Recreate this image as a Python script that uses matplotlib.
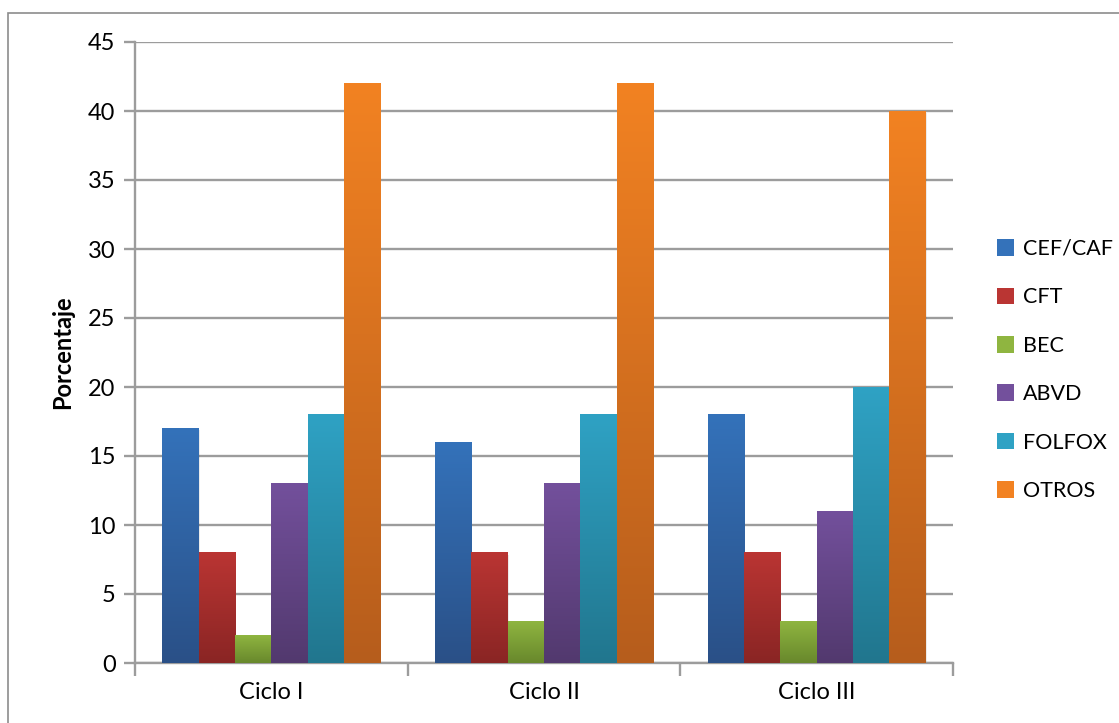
import matplotlib.pyplot as plt
import matplotlib.colors as mcolors
from matplotlib.patches import Rectangle
import numpy as np

plt.rcParams['font.family'] = ['Lato', 'DejaVu Sans']

# Porcentaje por esquema y ciclo
ciclos = ["Ciclo I", "Ciclo II", "Ciclo III"]
esquemas = ["CEF/CAF", "CFT", "BEC", "ABVD", "FOLFOX", "OTROS"]
valores = {
    "CEF/CAF": [17, 16, 18],
    "CFT": [8, 8, 8],
    "BEC": [2, 3, 3],
    "ABVD": [13, 13, 11],
    "FOLFOX": [18, 18, 20],
    "OTROS": [42, 42, 40],
}
# (claro arriba, oscuro abajo)
colores = {
    "CEF/CAF": ("#3472BA", "#2A5087"),
    "CFT": ("#BA3533", "#8A2524"),
    "BEC": ("#8FB540", "#68882C"),
    "ABVD": ("#73509C", "#52396E"),
    "FOLFOX": ("#2FA2C4", "#21768E"),
    "OTROS": ("#F28222", "#B65D1C"),
}

W, H = 1119, 723
fig = plt.figure(figsize=(W / 100, H / 100), dpi=100)

# marco exterior
fig.patches.append(Rectangle((8 / W, -0.1), 1.2, 1.1 - 13 / H, transform=fig.transFigure,
                             fill=False, edgecolor="#8C8C8C", linewidth=1.2))

ax = fig.add_axes([135 / W, (H - 663) / H, 818 / W, (663 - 42) / H])

grad = np.linspace(0, 1, 256).reshape(-1, 1)
n = len(esquemas)
ancho = 0.8 / n
x = np.arange(len(ciclos))
for i, e in enumerate(esquemas):
    pos = x + 0.1 + i * ancho
    cmap = mcolors.LinearSegmentedColormap.from_list(e, [colores[e][1], colores[e][0]])
    barras = ax.bar(pos, valores[e], width=ancho, align="edge", color=colores[e][0],
                    label=e, zorder=3)
    for b in barras:
        x0, y0 = b.get_x(), b.get_y()
        w, h = b.get_width(), b.get_height()
        # sombra leve
        ax.add_patch(Rectangle((x0 + 0.004, y0 - 0.15), w, h, color="#000000", alpha=0.08,
                               zorder=2.5, linewidth=0))
        b.set_facecolor("none")
        ax.imshow(grad, extent=(x0, x0 + w, y0, y0 + h), origin="lower", cmap=cmap,
                  aspect="auto", zorder=3, interpolation="bilinear")

ax.set_xlim(0, 3)
ax.set_ylim(0, 45)

ax.set_yticks(range(0, 46, 5))
ax.yaxis.grid(True, color="#9C9C9C", linewidth=1.7)
ax.set_axisbelow(True)
ax.tick_params(axis="y", length=8, width=1.7, color="#9C9C9C", labelsize=17, pad=6)

ax.set_xticks([0, 1, 2, 3])
ax.set_xticklabels([])
ax.set_xticks(x + 0.5, minor=True)
ax.set_xticklabels(ciclos, minor=True, fontsize=17)
ax.tick_params(axis="x", which="major", length=9, width=1.7, color="#9C9C9C")
ax.tick_params(axis="x", which="minor", length=0, pad=14)

for s in ["top", "right"]:
    ax.spines[s].set_visible(False)
for s in ["left", "bottom"]:
    ax.spines[s].set_color("#9C9C9C")
    ax.spines[s].set_linewidth(1.7)

ax.set_ylabel("Porcentaje", fontsize=17, fontweight="bold", labelpad=10)

# leyenda
handles = [Rectangle((0, 0), 1, 1, facecolor=colores[e][0]) for e in esquemas]
fig.legend(handles, esquemas, loc="center left", bbox_to_anchor=(982 / W, 1 - 370 / H),
           frameon=False, fontsize=15.5, handlelength=0.8, handleheight=0.8,
           labelspacing=1.32, handletextpad=0.4, borderaxespad=0.3)

fig.savefig("out.png", dpi=100)
